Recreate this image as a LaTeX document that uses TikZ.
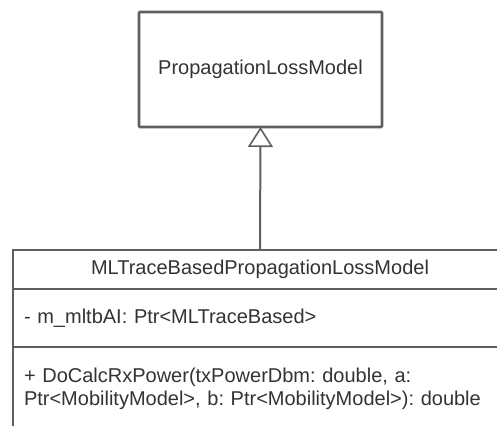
\documentclass[tikz,border=0pt]{standalone}
\usepackage{fontspec}
\setmainfont{Liberation Sans}
\usepackage{xcolor}
\usepackage{tikz}
\usetikzlibrary{arrows.meta, positioning}

\definecolor{umlline}{HTML}{5F5F5F}
\definecolor{umltext}{HTML}{333333}

\begin{document}
\frenchspacing
\begin{tikzpicture}[
        x=1pt, y=-1pt,
        font=\fontsize{20}{23}\selectfont,
        text=umltext,
        class_block/.style = {rectangle, draw=umlline, line width=2.8pt, fill=white, outer sep=0pt, minimum width=243pt, minimum height=115pt, rounded corners=1pt},
        part_block/.style = {rectangle, draw=umlline, line width=2pt, fill=white, outer sep=0pt, minimum width=494pt, inner xsep=11pt},
        member_block/.style = {part_block, text width=472pt, align=left},
        inherit/.style = {draw=umlline, line width=2pt, -{Triangle[open, length=20pt, width=25pt, line width=1.6pt]}}
    ]
    \useasboundingbox (0,0) rectangle (497,425);

    % Parent class
    \node [class_block] (base) at (260.5,69.5) {PropagationLossModel};

    % Derived class
    \node [part_block, minimum height=39pt] (derived) at (260,269.5) {MLTraceBasedPropagationLossModel};
    \node [member_block, minimum height=58pt, below=0pt of derived] (attrs) {- m\_mltbAI: Ptr<MLTraceBased>};
    \node [member_block, minimum height=83pt, below=0pt of attrs] (methods) {+ DoCalcRxPower(txPowerDbm: double, a:\\Ptr<MobilityModel>, b: Ptr<MobilityModel>): double};

    % Edges
    \path [inherit] (derived.north) -- (base.south);

\end{tikzpicture}
\end{document}
